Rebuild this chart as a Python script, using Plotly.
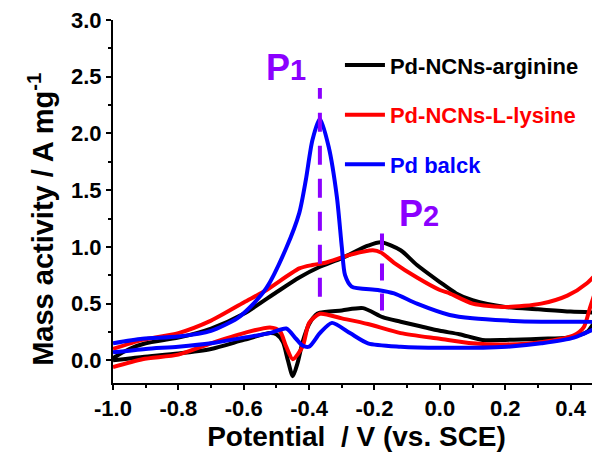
import plotly.graph_objects as go

# ---------------- data ----------------
black_up_x = [-1.0, -0.95, -0.9, -0.8, -0.7, -0.6, -0.5, -0.43, -0.37, -0.30, -0.22, -0.18, -0.12, -0.07, 0.0, 0.05, 0.10, 0.2, 0.3, 0.4, 0.49]
black_up_y = [0.02, 0.10, 0.15, 0.20, 0.28, 0.41, 0.60, 0.73, 0.82, 0.90, 1.01, 1.04, 0.97, 0.84, 0.69, 0.59, 0.53, 0.47, 0.45, 0.43, 0.42]
black_lo_x = [0.49, 0.48, 0.45, 0.39, 0.31, 0.2, 0.13, 0.06, 0.0, -0.06, -0.12, -0.175, -0.235, -0.30, -0.367, -0.38, -0.40, -0.42, -0.435, -0.45, -0.465, -0.48, -0.50, -0.52, -0.6, -0.7, -0.8, -0.91, -1.0]
black_lo_y = [0.42, 0.37, 0.25, 0.20, 0.19, 0.18, 0.18, 0.23, 0.26, 0.30, 0.34, 0.38, 0.46, 0.44, 0.42, 0.40, 0.32, 0.16, -0.02, -0.14, 0.0, 0.16, 0.23, 0.24, 0.18, 0.10, 0.06, 0.03, 0.0]

red_up_x = [-1.0, -0.91, -0.8, -0.7, -0.6, -0.53, -0.43, -0.39, -0.35, -0.275, -0.205, -0.18, -0.14, -0.07, 0.0, 0.03, 0.10, 0.205, 0.31, 0.39, 0.45, 0.49]
red_up_y = [0.10, 0.18, 0.24, 0.35, 0.51, 0.62, 0.81, 0.84, 0.86, 0.93, 0.97, 0.95, 0.86, 0.73, 0.62, 0.59, 0.50, 0.47, 0.50, 0.57, 0.68, 0.80]
red_lo_x = [0.49, 0.48, 0.46, 0.44, 0.41, 0.31, 0.205, 0.10, 0.0, -0.12, -0.22, -0.30, -0.367, -0.40, -0.42, -0.45, -0.47, -0.49, -0.52, -0.6, -0.7, -0.8, -0.91, -1.0]
red_lo_y = [0.80, 0.65, 0.47, 0.29, 0.22, 0.16, 0.14, 0.15, 0.19, 0.24, 0.32, 0.37, 0.41, 0.33, 0.12, 0.01, 0.12, 0.26, 0.29, 0.24, 0.15, 0.05, 0.01, -0.06]

blue_up_x = [-1.0, -0.91, -0.8, -0.7, -0.62, -0.58, -0.53, -0.47, -0.43, -0.41, -0.39, -0.367, -0.34, -0.315, -0.30, -0.29, -0.27, -0.19, -0.14, -0.07, 0.03, 0.10, 0.205, 0.31, 0.41, 0.49]
blue_up_y = [0.15, 0.19, 0.21, 0.26, 0.37, 0.47, 0.64, 0.99, 1.30, 1.59, 1.94, 2.13, 1.88, 1.44, 1.00, 0.75, 0.65, 0.62, 0.59, 0.50, 0.40, 0.37, 0.35, 0.34, 0.34, 0.33]
blue_lo_x = [0.49, 0.41, 0.31, 0.205, 0.0, -0.12, -0.22, -0.275, -0.33, -0.367, -0.40, -0.42, -0.44, -0.47, -0.52, -0.6, -0.7, -0.8, -0.9, -1.0]
blue_lo_y = [0.31, 0.20, 0.15, 0.12, 0.11, 0.12, 0.15, 0.24, 0.33, 0.24, 0.12, 0.13, 0.19, 0.28, 0.24, 0.20, 0.15, 0.12, 0.10, 0.07]

series_names = ["Pd-NCNs-arginine", "Pd-NCNs-L-lysine", "Pd balck"]
series_colors = ["#000000", "#FF0000", "#0000FF"]

p1_x = [-0.367, -0.367]
p1_y = [0.56, 2.40]
p2_x = [-0.177, -0.177]
p2_y = [0.44, 1.16]

x_tickvals = [-1.0, -0.8, -0.6, -0.4, -0.2, 0.0, 0.2, 0.4]
x_ticktext = ["-1.0", "-0.8", "-0.6", "-0.4", "-0.2", "0.0", "0.2", "0.4"]
y_tickvals = [0.0, 0.5, 1.0, 1.5, 2.0, 2.5, 3.0]
y_ticktext = ["0.0", "0.5", "1.0", "1.5", "2.0", "2.5", "3.0"]

# ---------------- figure ----------------
FONT = "Liberation Sans, Arial, sans-serif"
PURPLE = "#8B00FF"

fig = go.Figure()
loops = [
    (black_up_x + black_lo_x, black_up_y + black_lo_y),
    (red_up_x + red_lo_x, red_up_y + red_lo_y),
    (blue_up_x + blue_lo_x, blue_up_y + blue_lo_y),
]
for (lx, ly), name, col in zip(loops, series_names, series_colors):
    fig.add_trace(go.Scatter(
        x=lx, y=ly, mode="lines", name=f"<span style='color:{col}'>{name}</span>",
        legendgroup=name,
        line=dict(color=col, width=4, shape="spline", smoothing=0.7),
    ))

fig.add_trace(go.Scatter(x=p1_x, y=p1_y, mode="lines", showlegend=False,
                         line=dict(color=PURPLE, width=4, dash="19px,14px")))
fig.add_trace(go.Scatter(x=p2_x, y=p2_y, mode="lines", showlegend=False,
                         line=dict(color=PURPLE, width=4, dash="17px,13px")))

fig.add_annotation(x=-0.538, y=2.58, xref="x", yref="y",
                   text="P<span style='font-size:29px'>1</span>",
                   showarrow=False, xanchor="left", yanchor="middle",
                   font=dict(family=FONT, size=36, color=PURPLE, weight="bold"))
fig.add_annotation(x=-0.13, y=1.29, xref="x", yref="y",
                   text="P<span style='font-size:29px'>2</span>",
                   showarrow=False, xanchor="left", yanchor="middle",
                   font=dict(family=FONT, size=36, color=PURPLE, weight="bold"))

# y-axis title (as a rotated annotation so it can sit where the reference has it)
fig.add_annotation(x=-0.148, y=0.452, xref="paper", yref="paper",
                   text="Mass activity / A mg<sup>-1</sup>", textangle=-90,
                   showarrow=False, xanchor="center", yanchor="middle",
                   font=dict(family=FONT, size=29, color="black", weight="bold"))

fig.update_layout(
    width=592, height=456,
    margin=dict(l=105, r=0, t=12, b=81),
    plot_bgcolor="white", paper_bgcolor="white",
    font=dict(family=FONT, color="black"),
    legend=dict(x=0.466, y=0.933, xanchor="left", yanchor="top",
                bgcolor="rgba(0,0,0,0)", tracegroupgap=18, itemwidth=40,
                font=dict(family=FONT, size=22, weight="bold")),
    xaxis=dict(range=[-1.0, 0.49], showgrid=False, zeroline=False, automargin=False,
               showline=True, linecolor="black", linewidth=2,
               ticks="outside", ticklen=5, tickwidth=2, tickcolor="black",
               tickvals=x_tickvals, ticktext=x_ticktext, ticklabeloverflow="allow",
               minor=dict(dtick=0.1, ticks="outside", ticklen=3, tickwidth=1.5, tickcolor="black"),
               tickfont=dict(family=FONT, size=22, weight="bold"),
               title=dict(text="Potential\u00a0 / V (vs. SCE)", standoff=0,
                          font=dict(family=FONT, size=28, weight="bold"))),
    yaxis=dict(range=[-0.2, 3.0], showgrid=False, zeroline=False, automargin=False,
               showline=True, linecolor="black", linewidth=2,
               ticks="outside", ticklen=5, tickwidth=2, tickcolor="black",
               tickvals=y_tickvals, ticktext=y_ticktext, ticklabeloverflow="allow",
               minor=dict(dtick=0.25, ticks="outside", ticklen=3, tickwidth=1.5, tickcolor="black"),
               tickfont=dict(family=FONT, size=22, weight="bold")),
)

fig.write_html("out.html")
